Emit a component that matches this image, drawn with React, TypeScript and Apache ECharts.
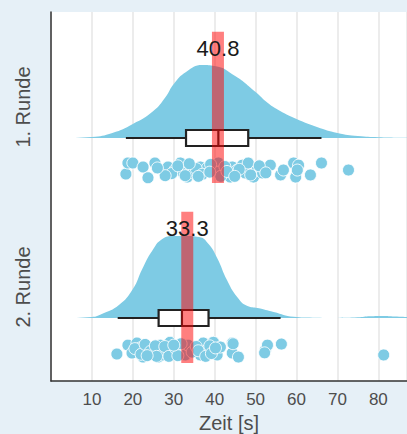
import React, { useEffect, useRef } from 'react';
import * as echarts from 'echarts';

// ---- data ----
const RUN_LABELS = ['1. Runde', '2. Runde'];
const RUN_BASE = [2, 1];
const MEANS = [40.8, 33.3];
// [lower whisker, Q1, median, Q3, upper whisker]
const BOX_1 = [18.3, 33.0, 40.9, 48.2, 66.1];
const BOX_2 = [16.3, 26.3, 32.0, 38.5, 56.1];

const DENS_X_1 = [4, 10, 15, 20, 25, 28, 30, 33, 37, 40, 45, 50, 53, 56, 60, 65, 70, 75, 80, 87];
const DENS_Y_1 = [0, 1, 5, 14, 27, 41, 54, 66, 73, 72, 62, 46, 35, 27, 19, 11, 5, 2, 0.8, 0.2];
const DENS_X_2 = [4.5, 10, 12.4, 16.6, 20, 22.3, 24.7, 27.2, 30, 33, 36.2, 38.5, 40.6, 43, 45.5, 48, 50.5, 54.4, 59.3, 64, 70, 75, 78, 81, 84, 87];
const DENS_Y_2 = [0, 1, 4, 13, 29, 49, 67, 79, 82, 82, 81, 74, 60, 38, 21, 12, 10, 6, 1.2, 0.3, 0.1, 0.7, 1.7, 2, 1.5, 1];

const POINTS_1 = [18.3, 18.8, 20.0, 22.5, 23.7, 25.4, 27.4, 28.6, 30.3, 31.6, 32.3, 33.3, 34.0, 34.8, 36.5, 38.2, 40.9, 40.9,
  43.8, 44.3, 45.5, 46.8, 47.5, 48.2, 49.5, 50.4, 51.7, 53.6, 56.1, 56.8, 59.3, 59.8, 60.5, 60.2, 63.4, 66.1, 72.7,
  29.5, 31.0, 32.8, 35.5, 37.0, 39.0, 41.5, 42.5, 43.0, 46.0, 48.8, 50.9, 27.9, 26.0, 36.0, 33.8, 44.9, 52.5, 38.8];
const JITTER_1 = [-0.57, 1, 1, 0.43, -1.1, 1, 0, 0.43, 0, 1, -0.43, -1, 0.7, -0.43, 0.43, 0.3, 1, -0.3,
  -1, 0.43, 0, 0.7, -0.43, 1, -1, 0, -0.43, 0.7, -0.7, 0, 1, -1, 0.7, 0, -0.7, 1, 0,
  -0.5, 0.6, -0.8, 0.2, -0.6, 0.8, -0.9, 0.5, -0.2, 0.1, -0.7, 0.6, -0.8, 0.3, -0.9, 0.9, -0.9, -0.4, -0.3];

const POINTS_2 = [16.1, 18.8, 19.8, 21.0, 21.8, 22.5, 23.7, 25.0, 26.2, 26.7, 28.4, 29.1, 29.9, 31.6, 32.8, 33.5, 36.5, 37.2,
  38.2, 39.7, 40.6, 41.4, 44.3, 44.3, 45.8, 52.4, 52.9, 56.3, 81.3,
  20.5, 22.0, 23.0, 24.3, 25.5, 27.2, 27.8, 28.8, 30.5, 31.0, 31.8, 34.5, 35.5, 36.0, 37.8, 38.8, 39.2, 40.2, 25.8, 23.5, 30.0, 44.5, 52.2];
const JITTER_2 = [-0.57, 0.7, -0.43, 1, 0.3, -1, 0.43, -0.43, -1, 0.7, 0, 1.1, -0.43, 0.43, -0.7, 0.7, -0.7, 1,
  0, 1.1, -0.7, 0.43, 1, -0.43, -1, 0, 0.7, 0.85, -0.7,
  0.2, -0.6, 0.8, -0.2, 0.6, -0.7, 0.5, -0.9, 0.2, -0.8, 0.9, -0.3, 0.5, -0.1, -0.9, 0.6, -0.5, 0.3, -0.9, -0.8, 0.7, 0.9, -0.4];

// ---- styling constants ----
const FONT = 'Liberation Sans, Arial, Helvetica, sans-serif';
const SKY = '#7ecbe4';
const DENS_SCALE = 1 / 180;
const POINT_OFFSET = -0.178;
const JITTER_AMP = 0.039;

export default function App() {
  const ref = useRef<HTMLDivElement>(null);
  useEffect(() => {
    if (!ref.current) return;
    const chart = echarts.init(ref.current, null, { renderer: 'svg' });

    const dens = [
      { xs: DENS_X_1, ys: DENS_Y_1, base: RUN_BASE[0] },
      { xs: DENS_X_2, ys: DENS_Y_2, base: RUN_BASE[1] },
    ];
    const densSeries = dens.map((d) => ({
      type: 'line',
      data: d.xs.map((x, i) => [x, d.base + d.ys[i] * DENS_SCALE]),
      smooth: 0.5,
      showSymbol: false,
      symbol: 'none',
      lineStyle: { width: 0, color: SKY },
      areaStyle: { color: SKY, opacity: 1, origin: d.base },
      z: 1,
      silent: true,
    }));

    const boxData = [
      [RUN_BASE[0], ...BOX_1],
      [RUN_BASE[1], ...BOX_2],
    ];
    const boxSeries = {
      type: 'custom',
      z: 2,
      data: boxData,
      renderItem: (params: any, api: any) => {
        const base = api.value(0);
        const lo = api.coord([api.value(1), base]);
        const q1 = api.coord([api.value(2), base]);
        const md = api.coord([api.value(3), base]);
        const q3 = api.coord([api.value(4), base]);
        const hi = api.coord([api.value(5), base]);
        const h = 8;
        const st = { stroke: '#222', lineWidth: 2.2, fill: null };
        return {
          type: 'group',
          children: [
            { type: 'line', shape: { x1: lo[0], y1: lo[1], x2: hi[0], y2: hi[1] }, style: st },
            { type: 'rect', shape: { x: q1[0], y: q1[1] - h, width: q3[0] - q1[0], height: 2 * h }, style: { stroke: '#222', lineWidth: 2.2, fill: '#fff' } },
            { type: 'line', shape: { x1: md[0], y1: md[1] - h, x2: md[0], y2: md[1] + h }, style: st },
          ],
        };
      },
    };

    const pts = [
      { xs: POINTS_1, js: JITTER_1, base: RUN_BASE[0] },
      { xs: POINTS_2, js: JITTER_2, base: RUN_BASE[1] },
    ];
    const pointSeries = pts.map((p) => ({
      type: 'scatter',
      z: 3,
      symbolSize: 12,
      itemStyle: { color: SKY, borderColor: 'rgba(255,255,255,0.85)', borderWidth: 1, opacity: 1 },
      data: p.xs.map((x, i) => [x, p.base + POINT_OFFSET + p.js[i] * JITTER_AMP]),
      silent: true,
    }));

    const meanData = MEANS.map((m, i) => [m, RUN_BASE[i]]);
    const meanSeries = {
      type: 'custom',
      z: 4,
      data: meanData,
      renderItem: (params: any, api: any) => {
        const m = api.value(0);
        const base = api.value(1);
        const top = api.coord([m, base + 0.59]);
        const bot = api.coord([m, base - 0.25]);
        const lab = api.coord([m, base + 0.5]);
        return {
          type: 'group',
          children: [
            { type: 'rect', shape: { x: top[0] - 6, y: top[1], width: 12, height: bot[1] - top[1] }, style: { fill: 'rgba(255,0,0,0.5)' } },
            {
              type: 'text', x: lab[0], y: lab[1], z2: 10,
              style: { text: m.toFixed(1), fontSize: 22, fontFamily: FONT, fill: '#1a1a1a', align: 'center', verticalAlign: 'middle' },
            },
          ],
        };
      },
    };

    const labelSeries = {
      type: 'custom',
      z: 5,
      clip: false,
      data: RUN_BASE.map((b, i) => [0, b, i]),
      renderItem: (params: any, api: any) => {
        const idx = api.value(2);
        const p = api.coord([0, api.value(1) + 0.172]);
        return {
          type: 'text',
          x: p[0] - 28,
          y: p[1],
          rotation: Math.PI / 2,
          style: { text: RUN_LABELS[idx], fontSize: 20, fontFamily: FONT, fill: '#4d4d4d', align: 'center', verticalAlign: 'middle' },
        };
      },
    };

    chart.setOption({
      animation: false,
      backgroundColor: 'transparent',
      grid: {
        left: 51, right: 0, top: 12, bottom: 53, show: true, backgroundColor: '#fff', borderWidth: 0,
        containLabel: false, outerBoundsMode: 'none',
      },
      xAxis: {
        type: 'value',
        min: 0,
        max: 87,
        interval: 10,
        name: 'Zeit [s]',
        nameLocation: 'middle',
        nameGap: 32,
        nameTextStyle: { fontSize: 20, fontFamily: FONT, color: '#4d4d4d' },
        axisLine: { show: true, onZero: false, lineStyle: { color: '#333', width: 1.5 } },
        axisTick: { show: false },
        axisLabel: {
          fontSize: 17, fontFamily: FONT, color: '#4d4d4d', margin: 10,
          showMaxLabel: false,
          formatter: (v: number) => (v === 0 || v % 10 !== 0 ? '' : String(v)),
        },
        splitLine: { show: true, lineStyle: { color: '#e6e6e6', width: 1.5 } },
      },
      yAxis: {
        type: 'value',
        min: 0.65,
        max: 2.7,
        axisLine: { show: true, onZero: false, lineStyle: { color: '#333', width: 1.5 } },
        axisTick: { show: false },
        axisLabel: { show: false },
        splitLine: { show: false },
      },
      series: [...densSeries, boxSeries, ...pointSeries, meanSeries, labelSeries],
    });
    return () => chart.dispose();
  }, []);

  return (
    <div style={{ position: 'fixed', left: 0, top: 0, width: 407, height: 434, background: '#e6f0f7' }}>
      <div ref={ref} style={{ width: 407, height: 434 }} />
    </div>
  );
}
